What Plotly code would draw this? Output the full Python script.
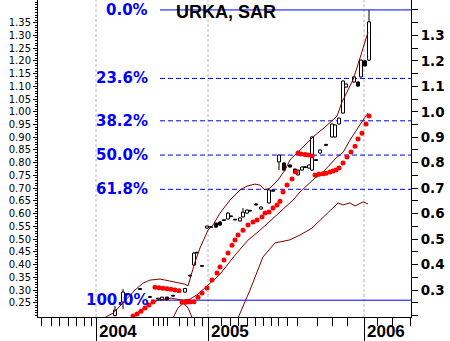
import plotly.graph_objects as go

# ---------------- price bars (position on the session axis, OHLC) ----------------
t = [77, 85, 89, 102, 112, 120, 124, 129, 135, 140, 147, 152, 156, 159, 164,
     169, 173, 178, 182, 186, 190, 193, 197, 202, 205, 209, 212, 218, 223, 231,
     235, 241, 246, 252, 257, 260, 264, 267, 271, 274, 278, 282, 288, 294, 297,
     301, 305, 308, 316, 320, 323, 327, 331]
opn = [0.200, 0.253, 0.286, 0.306, 0.274, 0.265, 0.262, 0.272, 0.279, 0.298,
       0.292, 0.358, 0.398, 0.448, 0.396, 0.543, 0.549, 0.563, 0.567, 0.576,
       0.579, 0.591, 0.578, 0.571, 0.587, 0.602, 0.613, 0.638, 0.618, 0.642,
       0.692, 0.803, 0.799, 0.791, 0.775, 0.752, 0.771, 0.784, 0.779, 0.771,
       0.812, 0.838, 0.872, 0.901, 0.901, 0.952, 0.995, 1.097, 1.117, 1.117,
       1.137, 1.200, 1.203]
high = [0.237, 0.304, 0.288, 0.307, 0.276, 0.268, 0.273, 0.274, 0.281, 0.300,
        0.308, 0.360, 0.450, 0.450, 0.398, 0.552, 0.550, 0.565, 0.570, 0.577,
        0.606, 0.592, 0.579, 0.585, 0.622, 0.616, 0.614, 0.640, 0.628, 0.695,
        0.693, 0.832, 0.801, 0.793, 0.777, 0.773, 0.785, 0.785, 0.793, 0.903,
        0.813, 0.852, 0.873, 0.954, 0.950, 0.977, 1.123, 1.111, 1.139, 1.119,
        1.205, 1.202, 1.400]
low = [0.196, 0.225, 0.280, 0.300, 0.270, 0.262, 0.260, 0.260, 0.274, 0.292,
       0.290, 0.352, 0.395, 0.444, 0.392, 0.540, 0.545, 0.545, 0.553, 0.572,
       0.577, 0.587, 0.574, 0.569, 0.585, 0.600, 0.609, 0.632, 0.616, 0.640,
       0.687, 0.771, 0.769, 0.781, 0.757, 0.750, 0.769, 0.780, 0.777, 0.769,
       0.808, 0.836, 0.867, 0.899, 0.899, 0.950, 0.993, 1.095, 1.115, 1.099,
       1.135, 1.178, 1.200]
close = [0.221, 0.292, 0.282, 0.302, 0.271, 0.268, 0.272, 0.262, 0.276, 0.295,
         0.306, 0.355, 0.445, 0.446, 0.393, 0.551, 0.546, 0.547, 0.555, 0.573,
         0.602, 0.588, 0.575, 0.583, 0.606, 0.614, 0.610, 0.634, 0.626, 0.693,
         0.688, 0.830, 0.771, 0.783, 0.759, 0.771, 0.783, 0.781, 0.791, 0.901,
         0.809, 0.850, 0.868, 0.952, 0.948, 0.975, 1.121, 1.109, 1.137, 1.101,
         1.203, 1.180, 1.353]

# ---------------- parabolic SAR ----------------
sar_t = [95, 99, 103, 107, 111, 115,
         117, 121, 125, 129, 133, 137, 141,
         144, 148, 152, 156,
         160, 164, 169, 174, 179, 182, 186, 190, 194, 197, 200, 205, 210, 215,
         219, 224, 227, 231, 235, 239, 242, 245, 249, 254, 258,
         260, 263, 267, 270, 274,
         277, 281, 285, 288, 292, 295, 298, 301, 305, 309, 313, 317, 320, 324,
         328, 331]
sar = [0.198, 0.206, 0.217, 0.229, 0.241, 0.253,
       0.311, 0.309, 0.307, 0.305, 0.303, 0.300, 0.297,
       0.252, 0.252, 0.253, 0.254,
       0.272, 0.288, 0.308, 0.339, 0.367, 0.390, 0.418, 0.445, 0.476, 0.496,
       0.516, 0.535, 0.555, 0.567, 0.575, 0.587, 0.602, 0.606, 0.622, 0.634,
       0.649, 0.685, 0.712, 0.736, 0.763,
       0.838, 0.834, 0.832, 0.830, 0.826,
       0.752, 0.755, 0.757, 0.759, 0.763, 0.767, 0.771, 0.779, 0.799, 0.822,
       0.842, 0.865, 0.893, 0.916, 0.952, 0.983]

# ---------------- envelope lines ----------------
upper_t = [66, 75, 83, 90, 97, 105, 112, 122, 137, 147, 150, 153, 157, 162,
           170, 175, 182, 192, 202, 209, 217, 222, 227, 232, 240, 247, 252,
           262, 275, 287, 299, 304, 309, 315, 322, 330]
upper = [0.190, 0.209, 0.241, 0.272, 0.300, 0.327, 0.339, 0.343, 0.331, 0.323,
         0.316, 0.359, 0.410, 0.465, 0.535, 0.555, 0.602, 0.653, 0.693, 0.708,
         0.716, 0.712, 0.693, 0.700, 0.732, 0.771, 0.811, 0.850, 0.901, 0.940,
         0.983, 1.038, 1.078, 1.125, 1.211, 1.313]
middle_t = [90, 95, 107, 120, 133, 145, 152, 160, 170, 182, 197, 210, 222,
            242, 255, 262, 277, 282, 299, 305, 312, 325, 330]
middle = [0.181, 0.198, 0.233, 0.260, 0.268, 0.260, 0.264, 0.284, 0.319, 0.362,
          0.437, 0.496, 0.535, 0.606, 0.653, 0.685, 0.740, 0.751, 0.822, 0.840,
          0.889, 0.967, 0.995]
lower_t = [134, 140, 145, 150, 156, 177, 200, 212, 225, 237, 252, 262, 274,
           287, 300, 305, 312, 317, 325, 330]
lower = [0.182, 0.230, 0.248, 0.230, 0.174, 0.120, 0.190, 0.300, 0.430, 0.485,
         0.497, 0.516, 0.543, 0.594, 0.642, 0.634, 0.642, 0.630, 0.646, 0.638]

# ---------------- Fibonacci retracement ----------------
FIB_HIGH = 1.40
FIB_LOW = 0.26
fib_pct = [0.0, 23.6, 38.2, 50.0, 61.8, 100.0]
fib_start = [122, 122, 122, 122, 122, 113]

# ---------------- time axis ----------------
X_END = 373
year_t = [58, 170, 326]
year_labels = ["2004", "2005", "2006"]
month_t = [3, 13, 21, 30, 38, 46, 53, 115, 120, 125, 129, 141, 149, 156, 164,
           183, 192, 200, 209, 217, 225, 233, 240, 249, 259, 279, 294, 309,
           339, 354, 372]

# ---------------- price axes ----------------
Y_RANGE = [0.194, 1.439]
left_ticks = [round(0.25 + 0.05 * i, 2) for i in range(23)]
right_ticks = [round(0.3 + 0.1 * i, 1) for i in range(11)]

fig = go.Figure()

# wicks, drawn only outside the candle bodies
wx, wy = [], []
for ti, o, hi, lo, c in zip(t, opn, high, low, close):
    top, bot = max(o, c), min(o, c)
    if hi > top:
        wx += [ti, ti, None]
        wy += [top, hi, None]
    if lo < bot:
        wx += [ti, ti, None]
        wy += [lo, bot, None]
fig.add_trace(go.Scatter(x=wx, y=wy, mode="lines",
                         line=dict(color="black", width=1), hoverinfo="skip"))

up = [i for i in range(len(t)) if close[i] >= opn[i]]
dn = [i for i in range(len(t)) if close[i] < opn[i]]
fig.add_trace(go.Bar(x=[t[i] for i in up],
                     y=[close[i] - opn[i] for i in up],
                     base=[opn[i] for i in up], width=3,
                     marker=dict(color="white", line=dict(color="black", width=1))))
fig.add_trace(go.Bar(x=[t[i] for i in dn],
                     y=[opn[i] - close[i] for i in dn],
                     base=[close[i] for i in dn], width=3,
                     marker=dict(color="black", line=dict(color="black", width=1))))

for xs, ys in [(upper_t, upper), (middle_t, middle), (lower_t, lower)]:
    fig.add_trace(go.Scatter(x=xs, y=ys, mode="lines",
                             line=dict(color="#800000", width=1)))

fig.add_trace(go.Scatter(x=sar_t, y=sar, mode="markers",
                         marker=dict(color="#ff0000", size=5, symbol="circle",
                                     line=dict(width=0))))

# empty trace to carry the right-hand axis
fig.add_trace(go.Scatter(x=[None], y=[None], yaxis="y2", showlegend=False))

shapes = []
for yb in year_t:
    shapes.append(dict(type="line", xref="x", yref="paper", x0=yb, x1=yb,
                       y0=0, y1=1, layer="below",
                       line=dict(color="#b8b8b8", width=1, dash="3px,2px")))

annotations = []
for pct, xs in zip(fib_pct, fib_start):
    lvl = FIB_HIGH - pct / 100.0 * (FIB_HIGH - FIB_LOW)
    solid = pct in (0.0, 100.0)
    shapes.append(dict(type="line", xref="x", yref="y", x0=xs, x1=X_END,
                       y0=lvl, y1=lvl, layer="below",
                       line=dict(color="#0000ff", width=1,
                                 dash="solid" if solid else "5px,3px")))
    annotations.append(dict(xref="x", yref="y", x=112, y=lvl,
                            xanchor="right", yanchor="middle",
                            text=f"{pct:.1f}%", showarrow=False,
                            font=dict(family="DejaVu Sans", size=15,
                                      color="#0000ff", weight="bold")))

for yb, lab in zip(year_t, year_labels):
    annotations.append(dict(xref="x", yref="paper", x=yb, y=0,
                            xanchor="left", yanchor="top", xshift=1, yshift=-3,
                            text=lab, showarrow=False,
                            font=dict(family="Liberation Sans", size=17,
                                      color="black", weight="bold")))

annotations.append(dict(xref="paper", yref="paper", x=0.3646, y=1,
                        xanchor="left", yanchor="top", yshift=0,
                        text="URKA, SAR", showarrow=False,
                        font=dict(family="Liberation Sans", size=18,
                                  color="black", weight="bold")))

fig.update_layout(
    width=450, height=341,
    margin=dict(l=38, r=39, t=0, b=24, pad=0),
    paper_bgcolor="white", plot_bgcolor="white",
    showlegend=False, barmode="overlay",
    shapes=shapes, annotations=annotations,
    xaxis=dict(range=[0, X_END], showgrid=False, zeroline=False,
               showline=True, linecolor="black", linewidth=1,
               tickmode="array", tickvals=year_t, ticks="outside",
               ticklen=24, tickwidth=1, tickcolor="black",
               showticklabels=False,
               minor=dict(tickmode="array", tickvals=month_t,
                          ticks="outside", ticklen=8, tickwidth=1,
                          tickcolor="black", showgrid=False)),
    yaxis=dict(range=Y_RANGE, showgrid=False, zeroline=False,
               showline=True, linecolor="black", linewidth=1,
               tickmode="array", tickvals=left_ticks,
               ticktext=[f"{v:.2f}" for v in left_ticks],
               ticks="outside", ticklen=4, tickwidth=1, tickcolor="black",
               tickfont=dict(family="DejaVu Sans", size=10, color="black"),
               minor=dict(dtick=0.01, tick0=0, ticks="outside", ticklen=2,
                          tickwidth=1, tickcolor="black", showgrid=False)),
    yaxis2=dict(range=Y_RANGE, overlaying="y", side="right", anchor="x",
                showgrid=False, zeroline=False,
                showline=True, linecolor="black", linewidth=1,
                tickmode="array", tickvals=right_ticks,
                ticktext=[f"{v:.1f}" for v in right_ticks],
                ticks="outside", ticklen=6, tickwidth=1, tickcolor="black",
                tickfont=dict(family="DejaVu Sans", size=13.5, color="black",
                              weight="bold"),
                minor=dict(dtick=0.05, tick0=0, ticks="outside", ticklen=6,
                           tickwidth=1, tickcolor="black", showgrid=False)),
)

fig.write_html("out.html")
